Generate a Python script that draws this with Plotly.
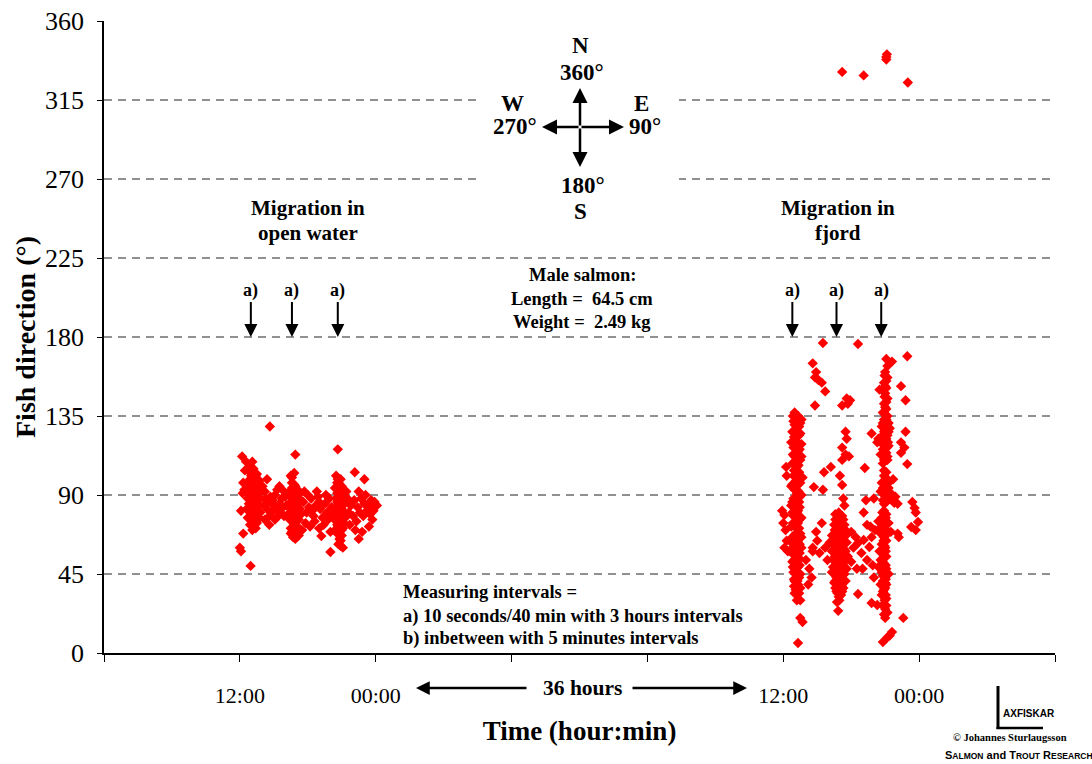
import plotly.graph_objects as go

# ---------------- data (hours from start of axis, direction in degrees) ----------------
x_tickvals = [0, 12, 24, 36, 48, 60, 72, 84]
x_ticktext = ["", "12:00", "00:00", "", "", "12:00", "00:00", ""]
y_tickvals = [0, 45, 90, 135, 180, 225, 270, 315, 360]
grid_vals = [45, 90, 135, 180, 225, 270, 315]

open_band1 = [(12.7,104),(12.9,107),(13.0,101),(13.2,99),(12.8,97),(13.1,95),(13.3,93),(12.9,92),(13.5,96),
              (13.2,90),(12.7,88),(13.0,87),(13.4,88),(13.6,91),(12.8,85),(13.1,84),(13.3,82),(13.5,85),
              (12.9,80),(13.2,79),(13.4,78),(13.6,81),(12.7,77),(13.0,76),(13.3,75),(12.9,73),(13.2,72),
              (13.5,74),(13.1,70),(13.4,71),(13.0,103),(13.2,105),(13.4,101),(13.6,99),(13.7,94),(13.8,88),
              (13.7,84),(13.8,80),(13.7,77),(13.9,92),(12.6,93),(12.6,82),(13.1,89),(13.3,86),(12.8,90),
              (13.5,79),(13.6,76),(13.0,81),(13.2,86),(13.4,96),(12.9,99),(13.1,109),(13.3,97),(13.7,98),
              (13.5,102),(12.2,112),(12.55,109),(12.45,104),(12.3,97),(12.4,93),(12.25,91),(12.1,81),
              (12.3,68),(12.0,60),(12.1,58),(12.95,49.6),(14.65,129)]
open_between12 = [(14.0,95),(14.2,92),(14.3,88),(14.5,86),(14.1,84),(14.4,82),(14.7,89),(14.9,87),(15.1,90),
                  (15.3,93),(15.0,84),(14.8,80),(14.6,78),(15.2,82),(15.5,85),(15.7,88),(15.9,92),(16.0,89),
                  (15.6,80),(15.4,78),(15.8,83),(14.2,76),(14.6,73),(15.1,76),(15.9,78),(14.4,99),(15.5,95),
                  (16.1,84)]
open_band2 = [(16.5,101),(16.8,102.5),(16.6,97),(16.9,95),(17.1,93),(16.4,92),(16.7,90),(17.0,88),(17.3,91),
              (16.5,86),(16.8,84),(17.1,85),(17.3,82),(16.4,80),(16.7,79),(17.0,78),(16.6,75),(16.9,74),
              (17.2,76),(16.5,71),(16.8,70),(17.1,69),(16.7,66),(16.9,65),(17.2,67),(16.4,76),(17.4,79),
              (17.4,87),(16.6,82),(16.9,81),(17.1,72),(16.8,88),(16.6,94),(16.9,113),(16.5,68),
              (16.6,100),(16.8,96),(17.0,91),(16.5,89),(16.9,86),(17.2,88),(16.6,84),(17.0,82),(16.7,77),
              (17.1,79),(16.8,73),(17.0,70),(16.6,69),(16.8,67)]
open_between23 = [(17.6,86),(17.9,80),(18.1,83),(18.3,88),(18.5,78),(18.7,84),(18.9,89),(19.1,82),(19.3,77),
                  (19.5,85),(19.7,80),(19.9,88),(20.1,83),(17.8,74),(18.2,72),(18.6,75),(19.0,71),(19.4,73),
                  (19.8,76),(20.2,78),(18.0,90),(18.8,92),(19.6,90),(17.7,92),(19.2,66.6),(20.0,69),
                  (18.4,81),(19.0,86),(20.0,57.5),(17.5,70)]
open_band3 = [(20.5,101),(20.7,97),(20.9,99),(20.4,94),(20.6,91),(20.8,93),(21.0,95),(21.2,90),(20.5,88),
              (20.7,85),(20.9,87),(21.1,84),(21.3,86),(20.4,82),(20.6,79),(20.8,81),(21.0,78),(21.2,80),
              (20.5,75),(20.7,72),(20.9,74),(21.1,71),(20.6,68),(20.8,65),(21.0,67),(20.7,62),(20.9,61),
              (21.2,74),(20.4,70),(21.3,77),(20.65,116),(20.65,99),(21.1,60),
              (20.6,97),(20.8,96),(21.0,92),(20.6,86),(20.9,84),(21.1,88),(20.7,80),(21.0,82),(20.6,73),
              (20.9,77),(20.8,69),(20.9,64),(21.0,70),(20.75,99)]
open_after3 = [(21.5,88),(21.8,84),(22.1,87),(22.4,83),(22.7,88),(23.0,85),(23.3,84),(23.6,87),(23.9,86),
               (24.1,84),(21.6,80),(22.0,78),(22.3,75),(22.6,80),(22.9,78),(23.2,81),(23.5,79),(23.8,81),
               (21.7,73),(22.2,70),(22.8,69),(23.4,72),(21.4,92),(22.5,92),(23.1,90),(22.15,103),
               (23.0,99),(23.4,84),(22.5,65),(23.7,76)]

fjord_bandA = [(61.0,137),(61.3,135),(60.9,132),(61.5,131),(61.2,128),(60.8,126),(61.4,124),(61.1,121),
               (61.6,119),(60.9,117),(61.3,115),(61.0,112),(61.5,110),(60.8,108),(61.2,106),(61.4,103),
               (60.9,101),(61.1,98),(61.3,96),(61.0,93),(61.2,91),(60.9,88),(61.4,86),(61.1,83),(61.3,81),
               (60.9,78),(61.2,76),(61.0,73),(61.4,71),(61.1,68),(60.8,66),(61.3,64),(61.0,61),(61.2,59),
               (60.9,56),(61.4,54),(61.1,51),(61.3,49),(60.9,46),(61.2,44),(61.0,41),(61.3,39),(61.1,36),
               (61.2,33),(61.5,30),(61.5,125),(60.7,120),(61.6,112),(61.7,100),(60.7,95),(61.6,90),
               (60.7,84),(61.6,77),(60.7,72),(61.6,66),(60.7,63),(61.6,60),(60.8,52),(61.5,45),(61.5,37),
               (61.0,130),(61.2,118),(61.1,108),(61.0,86),(61.3,74),(61.1,58),(61.0,48),(61.6,133),
               (60.85,135),(61.15,133),(61.4,129),(60.95,123),(61.25,120),(61.45,116),(60.85,113),
               (61.15,110),(61.35,107),(60.95,104),(61.25,101),(61.5,97),(60.8,96),(61.05,94),(61.35,92),
               (61.45,89),(61.15,87),(60.8,86),(61.0,84),(61.45,83),(61.2,80),(60.8,80),(61.05,78),
               (61.45,76),(60.85,74),(61.2,71),(61.5,68),(60.95,67),(61.25,65),(61.45,62),(60.85,60),
               (61.15,56),(61.45,57),(60.95,53),(61.25,52),(61.45,50),(60.85,49),(61.1,46),(61.4,43),
               (60.95,42),(61.25,41),(61.4,34),(60.95,38),(61.2,30),(61.0,34)]
fjord_scatterA = [(61.5,20),(61.3,5.7),(61.7,17.7),(59.9,81),(60.1,78.6),(60.0,74),(60.3,64),(60.1,60),
                  (60.25,106),(60.3,101),(60.4,58),(60.2,70),(62.2,39),(62.0,53),(62.6,60),(62.9,69),
                  (63.2,57),(63.0,64),(62.6,58),(63.4,74),(63.5,93),(62.7,94.5),(63.6,103),(64.2,106),
                  (64.3,67),(63.9,53),(64.1,63),(62.3,48),(62.5,43),(63.7,60),(62.6,165),(62.9,160),
                  (62.8,157),(63.1,155.5),(63.4,154),(63.7,149),(62.8,141),(63.5,176.6)]
fjord_bandB = [(64.9,80),(65.2,78),(64.6,76),(65.0,74),(65.4,73),(64.7,71),(65.1,69),(64.5,67),(65.3,66),
               (64.8,64),(65.2,62),(64.5,61),(65.0,59),(65.5,58),(64.7,56),(65.1,54),(64.4,53),(64.9,51),
               (65.3,50),(64.6,48),(65.0,46),(65.4,45),(64.7,43),(65.1,41),(64.5,40),(64.9,38),(65.3,37),
               (64.7,35),(65.1,33),(64.9,32),(65.6,63),(65.7,55),(64.3,58),(65.6,48),(64.3,46),(65.5,41),
               (64.8,69),(64.9,57),(65.2,44),(64.7,60),(65.7,68),(64.85,24),
               (64.6,79),(65.0,77),(65.3,76),(64.5,73),(64.85,72),(65.2,71),(65.5,70),(64.55,70),(64.9,67),
               (65.2,67),(64.65,65),(65.0,64),(65.4,62),(64.4,63),(64.8,61),(65.1,60),(65.4,59),(64.6,58),
               (64.9,55),(65.3,56),(64.55,55),(65.0,53),(65.4,52),(64.7,51),(65.1,49),(64.4,49),(64.85,47),
               (65.25,47),(64.55,45),(64.95,43),(65.3,42),(64.6,41),(64.85,40),(65.2,39),(64.6,37),
               (65.0,36),(64.8,34),(65.2,35),(64.95,30),(64.75,29)]
fjord_scatterB = [(65.2,95.7),(65.0,101),(65.2,110),(65.2,117),(65.5,126),(65.6,122),(65.2,141),(65.7,142),
                  (65.6,145),(65.9,144),(65.5,113),(65.8,112),(65.3,88),(65.4,84),(66.6,176),(67.2,105.4),
                  (68.0,88),(67.1,80),(67.4,73),(67.7,72),(66.0,69),(66.6,62.7),(67.1,64.4),(67.6,60.4),
                  (67.4,53),(67.8,66),(68.1,70),(68.4,75),(66.5,48),(67.0,48),(66.6,33.6),(68.0,43),
                  (67.8,28.5),(68.3,27.3),(66.2,60),(66.9,57),(67.9,50),(66.4,66),(67.3,87),(66.0,52),
                  (67.8,125)]
fjord_bandC = [(69.1,167.5),(69.6,166),(69.2,163.5),(69.0,160),(69.2,157),(68.9,154),(69.1,151),(69.0,148),
               (69.2,145),(68.9,142),(69.1,139),(68.8,137),(69.2,135),(68.9,133),(69.3,131),(68.7,129),
               (69.0,127),(69.3,126),(68.8,124),(69.1,122),(68.6,121),(69.0,119),(69.3,118),(68.8,116),
               (69.1,114),(68.6,113),(69.0,111),(68.8,108),(69.2,110),(68.3,120),(68.4,122),(69.4,128),
               (68.9,104),(69.1,103),(68.5,150),(68.9,101),(69.2,99),(68.7,97),(69.0,95),(69.3,94),
               (68.6,92),(68.9,90),(69.2,89),(69.5,91),(68.8,87),(69.1,86),(68.9,81),(69.1,79),(68.7,77),
               (69.0,75),(68.8,72),(69.1,70),(68.6,68),(68.9,66),(69.1,64),(68.7,62),(69.0,60),(68.8,57),
               (69.1,55),(68.6,53),(68.9,51),(69.1,48),(68.7,46),(69.0,44),(68.8,41),(69.1,39),(68.9,36),
               (68.7,33),(69.1,31),(68.9,28),(69.0,25),(68.5,58),(68.4,49),(69.3,45),(68.6,39),(69.3,74),
               (68.5,71),(69.2,23),(69.0,20),(69.6,12),(69.4,10),(69.2,9),(68.8,6.3),
               (68.75,80),(69.05,77),(68.85,74),(68.95,71),(68.75,69),(69.05,67),(68.85,64),(68.95,61),
               (68.75,59),(69.05,58),(68.9,55),(68.75,52),(69.05,50),(68.9,47),(68.8,44),(69.05,42),
               (68.85,39),(69.0,37),(68.8,35),(69.05,33),(68.95,30),(68.8,27),(69.1,27),(68.9,22),
               (69.0,40),(68.9,70),(68.95,158),(69.1,155),(69.0,152),(68.95,146),(69.1,143),(69.0,140),
               (68.95,136),(69.1,133),(68.85,130),(69.15,129),(68.9,126),(69.2,124),(68.95,121),
               (68.75,119),(69.15,117),(68.9,113),(69.2,112),(68.9,110),(68.8,131),(69.25,120),
               (69.0,98),(68.8,94),(69.3,97),(69.1,92),(69.4,88),(68.9,85)]
fjord_scatterC = [(70.95,169),(70.4,152),(70.8,144),(70.8,126),(70.4,120),(70.7,117),(70.4,114),
                  (70.95,107.6),(69.7,99),(69.9,89),(70.1,85),(69.8,85.5),(71.4,86),(71.6,82.6),(71.7,80),
                  (71.9,74.6),(71.3,71.8),(71.7,70),(69.5,69),(70.1,68),(70.2,66),(70.6,20)]
fjord_high = [(65.2,331),(67.1,329),(69.1,339.5),(69.15,341),(69.1,338),(71.0,325)]

arrow_hours = [12.97, 16.6, 20.65, 60.8, 64.7, 68.65]
arrow_level = 180

all_points = (open_band1 + open_between12 + open_band2 + open_between23 + open_band3 + open_after3 +
              fjord_bandA + fjord_scatterA + fjord_bandB + fjord_scatterB + fjord_bandC +
              fjord_scatterC + fjord_high)
hours = [p[0] for p in all_points]
degs = [p[1] for p in all_points]

SERIF = "Liberation Serif, Times New Roman, serif"
NARROW = "Liberation Sans Narrow, Arial Narrow, Liberation Sans, sans-serif"
W_PLOT, H_PLOT, L0, T0 = 951.0, 632.0, 104, 21

def px(xp):
    return (xp - L0) / W_PLOT

def py(yp):
    return (T0 + H_PLOT - yp) / H_PLOT

fig = go.Figure()
fig.add_trace(go.Scatter(
    x=hours, y=degs, mode="markers",
    marker=dict(symbol="diamond", size=8, color="#ff0000", line=dict(width=0)),
    showlegend=False, hoverinfo="x+y"))

# dashed gridlines
shapes = []
for g in grid_vals:
    shapes.append(dict(type="line", xref="paper", yref="y", x0=0, x1=1, y0=g, y1=g,
                       line=dict(color="#222222", width=1, dash="8px,6px"), layer="below"))
# white box behind compass
shapes.append(dict(type="rect", xref="paper", yref="paper", x0=px(480), x1=px(679), y0=py(196), y1=py(28),
                   fillcolor="white", line=dict(width=0), layer="below"))
# logo "L"
shapes.append(dict(type="line", xref="paper", yref="paper", x0=px(998), x1=px(998), y0=py(686), y1=py(729),
                   line=dict(color="black", width=3)))
shapes.append(dict(type="line", xref="paper", yref="paper", x0=px(996.5), x1=px(1043), y0=py(728), y1=py(728),
                   line=dict(color="black", width=2.5)))

ann = []
def txt(x, y, text, size=17, align="center", xanchor="center", family=SERIF):
    ann.append(dict(x=px(x), y=py(y), xref="paper", yref="paper", text=text, showarrow=False, align=align,
                    xanchor=xanchor, yanchor="middle", font=dict(family=family, size=size, color="black")))

# region labels
txt(308, 208, "<b>Migration in</b>", size=21)
txt(308, 233, "<b>open water</b>", size=21)
txt(838, 208, "<b>Migration in</b>", size=21)
txt(838, 233, "<b>fjord</b>", size=21)
# salmon info
txt(582, 275, "<b>Male salmon:</b>", size=18.5)
txt(582, 299, "<b>Length =  64.5 cm</b>", size=18.5)
txt(582, 322, "<b>Weight =  2.49 kg</b>", size=18.5)
# measuring intervals
txt(401, 592, "<b>Measuring intervals =</b>", size=18.5, xanchor="left")
txt(401, 616, "<b>a) 10 seconds/40 min with 3 hours intervals</b>", size=18.5, xanchor="left")
txt(401, 638, "<b>b) inbetween with 5 minutes intervals</b>", size=18.5, xanchor="left")

# a) arrows
for h in arrow_hours:
    ann.append(dict(x=h, y=arrow_level, xref="x", yref="y", text="<b>a)</b>", showarrow=True,
                    ax=0, ay=-47, arrowhead=2, arrowsize=1.3, arrowwidth=2, arrowcolor="black",
                    font=dict(family=SERIF, size=18, color="black")))

# compass
ccx, ccy = 580, 127
txt(580, 46, "<b>N</b>", size=23)
txt(582, 72, "<b>360°</b>", size=23)
txt(512, 103, "<b>W</b>", size=23)
txt(515, 126, "<b>270°</b>", size=23)
txt(641, 103, "<b>E</b>", size=23)
txt(645, 126, "<b>90°</b>", size=23)
txt(583, 185, "<b>180°</b>", size=23)
txt(580, 211, "<b>S</b>", size=23)
for tx, ty in [(580, 88), (580, 167), (542, 127), (624, 127)]:
    ann.append(dict(x=px(tx), y=py(ty), xref="paper", yref="paper", text="",
                    showarrow=True, ax=ccx - tx, ay=ccy - ty, arrowhead=2, arrowsize=1.2, arrowwidth=2.5,
                    arrowcolor="black"))

# 36 hours
txt(582, 688, "<b>36 hours</b>", size=21.5)
ann.append(dict(x=px(416), y=py(688), xref="paper", yref="paper", text="", showarrow=True,
                ax=112, ay=0, arrowhead=2, arrowsize=1.1, arrowwidth=2.5, arrowcolor="black"))
ann.append(dict(x=px(747), y=py(688), xref="paper", yref="paper", text="", showarrow=True,
                ax=-116, ay=0, arrowhead=2, arrowsize=1.1, arrowwidth=2.5, arrowcolor="black"))

# logo text
txt(1001, 713, "<b>AXFISKAR</b>", size=10, family=NARROW, xanchor="left")
txt(1010, 737, "<b>© Johannes Sturlaugsson</b>", size=10.5)
txt(1019, 755, "<b>S<span style='font-size:8.5px'>ALMON</span> and T<span style='font-size:8.5px'>ROUT</span> R<span style='font-size:8.5px'>ESEARCH</span></b>",
    size=11, family=NARROW)

fig.update_layout(
    width=1092, height=764,
    margin=dict(l=104, r=37, t=21, b=111, autoexpand=False),
    paper_bgcolor="white", plot_bgcolor="white",
    showlegend=False,
    shapes=shapes, annotations=ann,
    xaxis=dict(range=[0, 84], tickvals=x_tickvals, ticktext=x_ticktext, showgrid=False, zeroline=False,
               showline=True, linecolor="black", linewidth=1.5, ticks="outside", ticklen=7,
               tickcolor="black", tickwidth=1, ticklabelstandoff=15,
               tickfont=dict(family=SERIF, size=22, color="black"),
               title=dict(text="<b>Time (hour:min)</b>", font=dict(family=SERIF, size=27, color="black"),
                          standoff=14)),
    yaxis=dict(range=[0, 360], tickvals=y_tickvals, showgrid=False, zeroline=False,
               showline=True, linecolor="black", linewidth=1.5, ticks="outside", ticklen=5,
               tickcolor="black", tickwidth=1, ticklabelstandoff=8,
               tickfont=dict(family=SERIF, size=26, color="black"),
               title=dict(text="<b>Fish direction (°)</b>", font=dict(family=SERIF, size=28, color="black"),
                          standoff=1)),
)

fig.write_html("out.html", config={"displayModeBar": False},
               post_script="document.body.style.margin='0px';document.body.style.overflow='hidden';")
